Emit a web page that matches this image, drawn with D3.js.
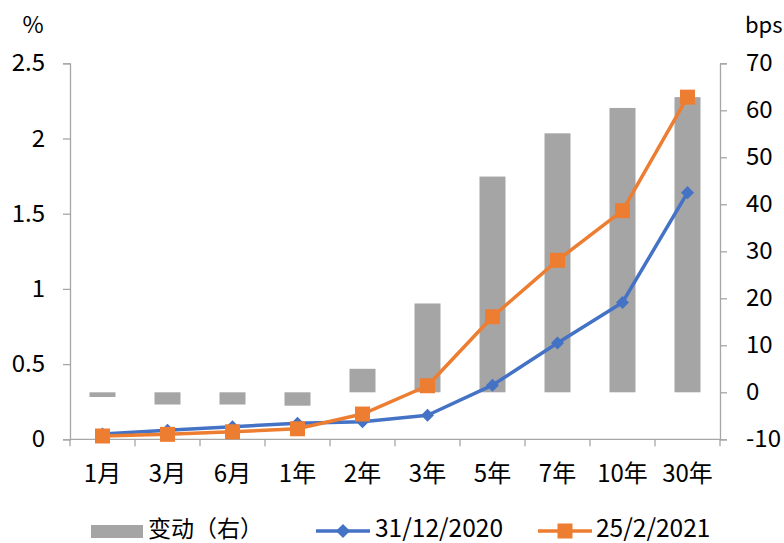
<!DOCTYPE html>
<html>
<head>
<meta charset="utf-8">
<script src="https://cdn.jsdelivr.net/npm/d3@7"></script>
<style>
  html, body { margin: 0; padding: 0; background: #fff; }
  svg text { font-family: "Noto Sans CJK SC", Calibri, Carlito, sans-serif; fill: #000; }
</style>
</head>
<body>
<svg id="chart" width="784" height="543"></svg>
<script>
// Tenors along the curve
const categories = ["1月", "3月", "6月", "1年", "2年", "3年", "5年", "7年", "10年", "30年"];
// Yield (%) on each date
const yields20201231 = [0.035, 0.06, 0.084, 0.106, 0.117, 0.16, 0.36, 0.64, 0.91, 1.64];
const yields20210225 = [0.022, 0.033, 0.05, 0.07, 0.168, 0.356, 0.815, 1.19, 1.52, 2.275];
// Change between the two dates (bps, right axis)
const changeBps = [-1.0, -2.6, -2.6, -2.85, 5.0, 18.9, 45.9, 55.1, 60.5, 62.8];
const leftTicks = [0, 0.5, 1, 1.5, 2, 2.5];
const rightTicks = [-10, 0, 10, 20, 30, 40, 50, 60, 70];
const seriesNames = ["变动（右）", "31/12/2020", "25/2/2021"];

const colors = { bar: "#a5a5a5", blue: "#4472c4", orange: "#ed7d31", axis: "#a6a6a6" };
const plot = { left: 70, right: 720, top: 63.3, bottom: 439.3 };
const fontSize = 24;

const svg = d3.select("#chart");

const xBand = d3.scaleBand().domain(categories).range([plot.left, plot.right]);
const yL = d3.scaleLinear().domain([0, 2.5]).range([plot.bottom, plot.top]);
const yR = d3.scaleLinear().domain([-10, 70]).range([plot.bottom, plot.top]);
const cx = c => xBand(c) + xBand.bandwidth() / 2;
const barWidth = 26;

// Bars: change in bps, anchored at the right axis zero
svg.append("g").selectAll("rect").data(changeBps).join("rect")
  .attr("x", (d, i) => cx(categories[i]) - barWidth / 2)
  .attr("width", barWidth)
  .attr("y", d => Math.min(yR(d), yR(0)))
  .attr("height", d => Math.abs(yR(d) - yR(0)))
  .attr("fill", colors.bar);

// Axes
function styleAxis(g) {
  g.selectAll(".domain").attr("stroke", colors.axis).attr("stroke-width", 1.3);
  g.selectAll(".tick line").attr("stroke", colors.axis).attr("stroke-width", 1.3);
  g.selectAll(".tick text").style("font-size", fontSize + "px").attr("fill", "#000");
}
const plain = d => String(d);

svg.append("g").attr("transform", `translate(${plot.left},0)`)
  .call(d3.axisLeft(yL).tickValues(leftTicks).tickSize(7).tickSizeOuter(7).tickPadding(18).tickFormat(plain))
  .call(styleAxis);

svg.append("g").attr("transform", `translate(${plot.right},0)`)
  .call(d3.axisRight(yR).tickValues(rightTicks).tickSize(7).tickSizeOuter(7).tickPadding(19).tickFormat(plain))
  .call(styleAxis);

// Category axis with ticks on band boundaries
const xAxis = svg.append("g").attr("transform", `translate(0,${plot.bottom})`);
xAxis.append("line").attr("x1", plot.left).attr("x2", plot.right).attr("stroke", colors.axis).attr("stroke-width", 1.3);
const bounds = categories.map(c => xBand(c)).concat([plot.right]);
xAxis.selectAll("line.tk").data(bounds).join("line").attr("class", "tk")
  .attr("x1", d => d).attr("x2", d => d).attr("y1", 0).attr("y2", 7)
  .attr("stroke", colors.axis).attr("stroke-width", 1.3);
xAxis.selectAll("text").data(categories).join("text")
  .attr("x", d => cx(d))
  .attr("y", 43)
  .attr("text-anchor", "middle")
  .style("font-size", fontSize + "px")
  .text(d => d);

// Unit labels
svg.append("text").attr("x", 33).attr("y", 33).attr("text-anchor", "middle").style("font-size", "23px").text("%");
svg.append("text").attr("x", 745).attr("y", 33).style("font-size", "22px").text("bps");

// Lines with markers
const line = d3.line().x((d, i) => cx(categories[i])).y(d => yL(d));

function drawSeries(values, color, symbol, size, rotate) {
  svg.append("path").datum(values).attr("d", line)
    .attr("fill", "none").attr("stroke", color).attr("stroke-width", 3.5).attr("stroke-linejoin", "round");
  svg.append("g").selectAll("path").data(values).join("path")
    .attr("transform", (d, i) => `translate(${cx(categories[i])},${yL(d)}) rotate(${rotate})`)
    .attr("d", d3.symbol().type(symbol).size(size))
    .attr("fill", color);
}
drawSeries(yields20201231, colors.blue, d3.symbolSquare, 85, 45);
drawSeries(yields20210225, colors.orange, d3.symbolSquare, 225, 0);

// Legend
const lg = svg.append("g");
const ly = 531;
const lb = 537;
lg.append("rect").attr("x", 91).attr("y", 525).attr("width", 52).attr("height", 13).attr("fill", colors.bar);
lg.append("text").attr("x", 148).attr("y", 537).style("font-size", "23px").text(seriesNames[0]);

lg.append("line").attr("x1", 316).attr("x2", 370).attr("y1", ly).attr("y2", ly).attr("stroke", colors.blue).attr("stroke-width", 3.5);
lg.append("path").attr("transform", `translate(343,${ly}) rotate(45)`).attr("d", d3.symbol().type(d3.symbolSquare).size(100)).attr("fill", colors.blue);
lg.append("text").attr("x", 375).attr("y", lb).style("font-size", "24.5px").text(seriesNames[1]);

lg.append("line").attr("x1", 538).attr("x2", 592).attr("y1", ly).attr("y2", ly).attr("stroke", colors.orange).attr("stroke-width", 3.5);
lg.append("path").attr("transform", `translate(565,${ly})`).attr("d", d3.symbol().type(d3.symbolSquare).size(225)).attr("fill", colors.orange);
lg.append("text").attr("x", 596).attr("y", lb).style("font-size", "24.5px").text(seriesNames[2]);
</script>
</body>
</html>
